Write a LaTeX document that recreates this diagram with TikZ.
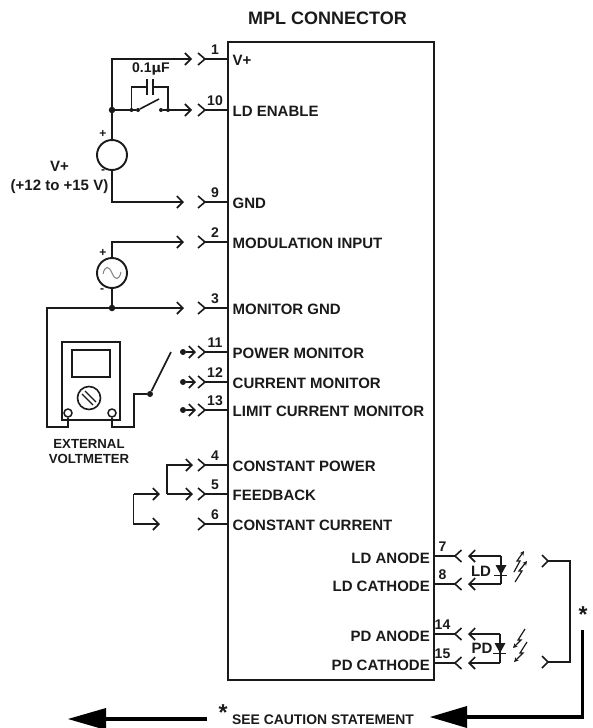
\documentclass[tikz,border=0pt]{standalone}
\usepackage{fontspec}
\setmainfont{Liberation Sans}
\usetikzlibrary{arrows.meta,calc}
\definecolor{ink}{HTML}{1a1a1a}
\tikzset{
  x=1pt,y=-1pt,
  wire/.style={draw=ink,line width=1.6pt,line join=miter},
  arr/.style={wire,-{Straight Barb[length=6pt,width=12pt,line width=1.6pt]}},
  txt/.style={font=\bfseries\fontsize{15}{17}\selectfont,text=ink,inner sep=0pt},
  lab/.style={txt,anchor=west},
  labr/.style={txt,anchor=east},
  num/.style={txt,anchor=center,font=\bfseries\fontsize{14}{14}\selectfont},
  junction/.style={circle,fill=ink,inner sep=0pt,minimum size=#1},
  junction/.default=6.5pt,
  src/.style={circle,draw=ink,line width=1.9pt,inner sep=0pt,minimum size=30pt},
  sign/.style={txt,font=\bfseries\fontsize{12}{12}\selectfont},
  thick arrow/.style={draw=black,line width=3.2pt},
  head/.style={fill=black,draw=none},
  bolt/.style={draw=ink,line width=1.2pt,-{Stealth[length=4.5pt,width=4.5pt]}},
}
% left pin: number, y, label
\newcommand{\lpin}[3]{%
  \coordinate (s#1) at (205,#2);
  \draw[wire] (s#1) -- (227,#2);
  \draw[wire] ($(s#1)+(-7,-6)$) -- (s#1) -- ($(s#1)+(-7,6)$);
  \node[num] at (215,#2-9) {#1};
  \node[lab] (l#1) at (232.5,#2+1) {#3};
}
\newcommand{\rpin}[3]{%
  \coordinate (s#1) at (455,#2);
  \draw[wire] (433,#2) -- (s#1);
  \draw[wire] ($(s#1)+(6.5,-6)$) -- (s#1) -- ($(s#1)+(6.5,6)$);
  \node[num] at (442.5,#2-9) {#1};
  \node[labr] (l#1) at (430,#2+2) {#3};
}
\begin{document}
\begin{tikzpicture}
\useasboundingbox (0,0) rectangle (592,728);
\node[txt,font=\bfseries\fontsize{18}{20}\selectfont] (title) at (327.5,18.5) {MPL CONNECTOR};
\node[draw=ink,line width=1.5pt,minimum width=206pt,minimum height=638pt,inner sep=0pt,anchor=north west] (box) at (227,41) {};

\lpin{1}{59}{V+}
\lpin{10}{110}{LD ENABLE}
\lpin{9}{202}{GND}
\lpin{2}{242}{MODULATION INPUT}
\lpin{3}{308}{MONITOR GND}
\lpin{11}{352}{POWER MONITOR}
\lpin{12}{382}{CURRENT MONITOR}
\lpin{13}{410}{LIMIT CURRENT MONITOR}
\lpin{4}{465}{CONSTANT POWER}
\lpin{5}{494}{FEEDBACK}
\lpin{6}{524}{CONSTANT CURRENT}
\rpin{7}{556}{LD ANODE}
\rpin{8}{584}{LD CATHODE}
\rpin{14}{634}{PD ANODE}
\rpin{15}{663}{PD CATHODE}

% DC supply
\node[src] (dc) at (112,155) {};
\node[junction] (j1) at (112,110) {};
\coordinate (a1) at (192,59);
\coordinate (a10) at (192,110);
\coordinate (a9) at (184,202);
\draw[arr] (dc.north) -- (dc.north |- a1) -- (a1);
\draw[arr] (dc.south) -- (dc.south |- a9) -- (a9);
\node[sign] at (103,134) {+};
\node[sign] at (103,172) {-};
\node[txt,align=center] (vlabel) at (59.5,177) {V+\\[2pt](+12 to +15 V)};
% switch with capacitor
\node[junction=4pt] (d1) at (131.5,110) {};
\node[junction=4pt] (d2) at (138,110) {};
\node[junction=4pt] (d3) at (161,110) {};
\node[junction=4pt] (d4) at (168,110) {};
\coordinate (sw) at (159,99);
\coordinate (c1) at (147,87);
\coordinate (c2) at (153,87);
\draw[wire] (j1) -- (d2);
\draw[arr] (d3) -- (a10);
\draw[wire] (d2) -- (sw);
\draw[wire,line width=1.4pt] (d1) -- (d1 |- c1) -- (c1);
\draw[wire,line width=1.4pt] (d4) -- (d4 |- c2) -- (c2);
\draw[wire,line width=1.4pt] ($(c1)+(0,-8)$) -- ($(c1)+(0,8)$);
\draw[wire,line width=1.4pt] ($(c2)+(0,-8)$) -- ($(c2)+(0,8)$);
\node[txt,font=\bfseries\fontsize{14}{14}\selectfont] (cap) at (151,69) {0.1{\fontspec{DejaVu Sans}\fontsize{13}{13}\selectfont μ}F};

% AC source
\node[src] (ac) at (112,273) {};
\node[junction] (j3) at (112,308) {};
\coordinate (a2) at (184,242);
\coordinate (a3) at (184,308);
\draw[arr] (ac.north) -- (ac.north |- a2) -- (a2);
\draw[wire] (ac.south) -- (j3);
\draw[draw=gray,line width=1pt] (103,274) .. controls (105,265) and (109,266) .. (112,273) .. controls (115,280) and (119,281) .. (121,272);
\node[sign] at (103,253) {+};
\node[sign] at (102,291) {-};

% Voltmeter
\node[draw=ink,line width=1.6pt,minimum width=58pt,minimum height=78pt,inner sep=0pt,anchor=north west] (vm) at (61,341) {};
\node[draw=ink,line width=1.6pt,minimum width=38pt,minimum height=27pt,inner sep=0pt,anchor=north west] (disp) at (71,349) {};
\node[circle,draw=ink,line width=1.6pt,minimum size=23pt,inner sep=0pt] (dial) at (89,398) {};
\draw[wire,line width=1.3pt] ($(dial)+(-7,-4)$) -- ($(dial)+(4,7)$);
\draw[wire,line width=1.3pt] ($(dial)+(-4,-7)$) -- ($(dial)+(7,4)$);
\node[circle,draw=ink,fill=white,line width=1.5pt,minimum size=8pt,inner sep=0pt] (tl) at (68,413) {};
\node[circle,draw=ink,fill=white,line width=1.5pt,minimum size=8pt,inner sep=0pt] (tr) at (112,413) {};
\node[junction=6pt] (j4) at (150,394) {};
\coordinate (swt) at (171,352);
\draw[arr] (tl.south) -- (68,427) -- (47,427) -- (47,308) -- (a3);
\draw[wire] (tr.south) -- (112,427) -- (134,427) -- (134,394) -- (j4);
\draw[wire] (j4) -- (swt);
\node[txt,align=center,font=\bfseries\fontsize{13.2}{15}\selectfont] (vmlabel) at (89,452) {EXTERNAL\\VOLTMETER};

% monitor test points
\foreach \n/\y in {11/352,12/382,13/410}{
  \node[junction=6pt] (m\n) at (183,\y) {};
  \coordinate (e\n) at (196,\y);
  \draw[arr] (m\n) -- (e\n);
}

% jumpers
\coordinate (a4) at (193,465);
\coordinate (a5) at (193,494);
\coordinate (b5) at (160,494);
\coordinate (b6) at (160,524);
\draw[arr] (167,494) -- (167,465) -- (a4);
\draw[arr] (167,494) -- (a5);
\draw[arr] (133.5,494) -- (b5);
\draw[arr] (133.5,494) -- (133.5,524) -- (b6);

% LD
\coordinate (la) at (468,556);
\coordinate (lc) at (468,584);
\draw[arr] (501,556) -- (la);
\draw[arr] (501,584) -- (lc);
\draw[wire] (501,556) -- (501,584);
\fill[ink] (495.5,565) -- (506.5,565) -- (501,575) -- cycle;
\draw[wire] (494,575.5) -- (507,575.5);
\node[txt] (ldl) at (481,571) {LD};
\draw[bolt] (514,572) -- (520,561) -- (517,561) -- (524,551);
\draw[bolt] (515,582) -- (522,571) -- (519,571) -- (527,561);

% PD
\coordinate (pa) at (468,634);
\coordinate (pc) at (468,663);
\draw[arr] (500,634) -- (pa);
\draw[arr] (500,663) -- (pc);
\draw[wire] (500,634) -- (500,663);
\fill[ink] (494.5,643) -- (505.5,643) -- (500,653) -- cycle;
\draw[wire] (493,653.5) -- (506,653.5);
\node[txt] (pdl) at (482,648) {PD};
\draw[bolt] (525,629) -- (518,640) -- (521,640) -- (513,648);
\draw[bolt] (527,642) -- (520,653) -- (523,653) -- (514,662);

% cable bracket
\coordinate (u) at (548,561);
\coordinate (v) at (548,662);
\draw[wire] (u) -- (570,561) -- (570,662) -- (v);
\draw[wire] ($(u)+(-6,-6)$) -- (u) -- ($(u)+(-6,6)$);
\draw[wire] ($(v)+(-6,-6)$) -- (v) -- ($(v)+(-6,6)$);
\node[txt,font=\bfseries\fontsize{23}{23}\selectfont] (star) at (583,615) {*};

% caution arrows
\coordinate (t1) at (430,717);
\coordinate (t2) at (68,719);
\draw[thick arrow] (582.5,630) -- (582.5,717) -- (465,717);
\fill[head] (t1) -- (467,706) -- (467,728) -- cycle;
\draw[thick arrow] (207,719) -- (103,719);
\fill[head] (t2) -- (106,708) -- (106,730) -- cycle;
\node[txt,font=\bfseries\fontsize{23}{23}\selectfont] (star2) at (223,713) {*};
\node[txt,anchor=west,font=\bfseries\fontsize{13.9}{14}\selectfont] (caution) at (232,720) {SEE CAUTION STATEMENT};
\end{tikzpicture}
\end{document}
